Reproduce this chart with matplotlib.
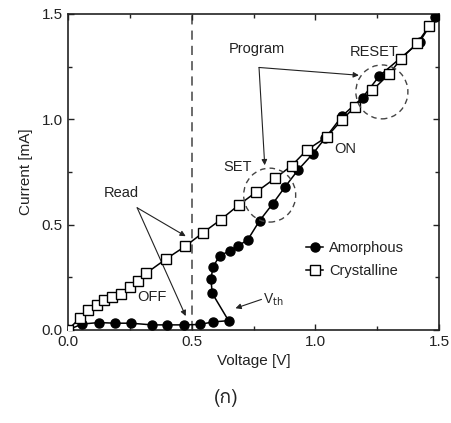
import matplotlib
matplotlib.use("Agg")
import matplotlib.pyplot as plt
from matplotlib import font_manager
from matplotlib.ft2font import FT2Font
from matplotlib.patches import Ellipse
from matplotlib.ticker import MultipleLocator

# data
amorphous_v = [0.0, 0.058, 0.125, 0.192, 0.254, 0.340, 0.400, 0.468, 0.532, 0.586, 0.649,
               0.583, 0.578, 0.586, 0.613, 0.653, 0.687, 0.727, 0.774, 0.828, 0.877,
               0.930, 0.989, 1.040, 1.108, 1.190, 1.258, 1.420, 1.484]
amorphous_i = [0.0, 0.028, 0.035, 0.032, 0.032, 0.024, 0.024, 0.024, 0.026, 0.038, 0.044,
               0.174, 0.240, 0.300, 0.351, 0.376, 0.398, 0.429, 0.518, 0.600, 0.679,
               0.760, 0.836, 0.912, 1.016, 1.103, 1.206, 1.367, 1.486]

crystalline_v = [0.0, 0.048, 0.083, 0.116, 0.146, 0.180, 0.216, 0.250, 0.282, 0.315, 0.398,
                 0.474, 0.545, 0.617, 0.691, 0.760, 0.837, 0.904, 0.966, 1.045, 1.105,
                 1.160, 1.229, 1.298, 1.345, 1.410, 1.460]
crystalline_i = [0.0, 0.055, 0.095, 0.118, 0.142, 0.155, 0.169, 0.204, 0.233, 0.268, 0.338,
                 0.397, 0.461, 0.523, 0.594, 0.654, 0.720, 0.780, 0.855, 0.916, 0.995,
                 1.060, 1.137, 1.216, 1.287, 1.360, 1.445]

x_ticks = [0.0, 0.5, 1.0, 1.5]
y_ticks = [0.0, 0.5, 1.0, 1.5]
caption = "(ก)"


def thai_font():
    """find an installed font that has the Thai glyph"""
    for f in font_manager.fontManager.ttflist:
        try:
            if ord("ก") in FT2Font(f.fname).get_charmap():
                return f.name
        except Exception:
            pass
    return "DejaVu Sans"


plt.rcParams["font.family"] = ["Liberation Sans", "DejaVu Sans"]
ink = "#222222"

fig = plt.figure(figsize=(4.52, 4.23), dpi=100)
ax = fig.add_axes([0.150, 0.220, 0.822, 0.747])

ax.plot(amorphous_v, amorphous_i, "-o", color="black", lw=1.1, ms=6.5,
        mfc="black", mec="black", label="Amorphous", zorder=3)
ax.plot(crystalline_v, crystalline_i, "-s", color="black", lw=1.1, ms=6.5,
        mfc="white", mec="black", mew=1.0, label="Crystalline", zorder=4)

ax.axvline(0.5, color="#444444", lw=1.1, ls=(0, (6, 4)), zorder=1)

ax.set_xlim(0, 1.5)
ax.set_ylim(0, 1.5)
ax.set_xticks(x_ticks)
ax.set_yticks(y_ticks)
ax.set_xticklabels([f"{t:.1f}" for t in x_ticks])
ax.set_yticklabels([f"{t:.1f}" for t in y_ticks])
ax.xaxis.set_minor_locator(MultipleLocator(0.25))
ax.yaxis.set_minor_locator(MultipleLocator(0.25))
ax.tick_params(which="both", direction="in", top=True, right=True,
               labelsize=11, colors=ink, width=1.0)
ax.tick_params(which="major", length=4)
ax.tick_params(which="minor", length=3)
for s in ax.spines.values():
    s.set_linewidth(1.2)
    s.set_color(ink)

ax.set_xlabel("Voltage [V]", fontsize=11, color=ink, labelpad=4)
ax.set_ylabel("Current [mA]", fontsize=11, color=ink, labelpad=6)

arrow = dict(arrowstyle="-|>", color=ink, lw=0.8, mutation_scale=8, shrinkA=0, shrinkB=0)
txt = dict(fontsize=10.5, color=ink, ha="center", va="center")

# Read / OFF
ax.text(0.215, 0.65, "Read", **txt)
ax.annotate("", xy=(0.476, 0.445), xytext=(0.28, 0.58), arrowprops=arrow)
ax.annotate("", xy=(0.476, 0.066), xytext=(0.28, 0.58), arrowprops=arrow)
ax.text(0.34, 0.158, "OFF", **txt)

# Program / SET / RESET / ON
ax.text(0.765, 1.335, "Program", **txt)
ax.annotate("", xy=(0.795, 0.782), xytext=(0.772, 1.246), arrowprops=arrow)
ax.annotate("", xy=(1.175, 1.209), xytext=(0.772, 1.246), arrowprops=arrow)
ax.text(1.235, 1.320, "RESET", **txt)
ax.text(0.687, 0.775, "SET", **txt)
ax.text(1.121, 0.860, "ON", **txt)

for cx, cy in [(0.815, 0.640), (1.268, 1.130)]:
    ax.add_patch(Ellipse((cx, cy), 0.21, 0.256, fill=False, ec="#444444",
                         lw=1.0, ls=(0, (4, 3)), zorder=5))

# threshold voltage
ax.text(0.79, 0.142, r"V$_{\rm th}$", fontsize=10, color=ink, ha="left", va="center")
ax.annotate("", xy=(0.677, 0.103), xytext=(0.782, 0.145), arrowprops=arrow)

leg = ax.legend(loc="upper left", bbox_to_anchor=(0.625, 0.30), frameon=False,
                fontsize=10.5, handlelength=1.2, handletextpad=0.4,
                labelspacing=0.6, borderaxespad=0)
for t in leg.get_texts():
    t.set_color(ink)

fig.text(0.5, 0.06, caption, fontsize=14, color=ink, ha="center", va="center",
         family=[thai_font(), "DejaVu Sans"])

fig.savefig("out.png", dpi=100)
